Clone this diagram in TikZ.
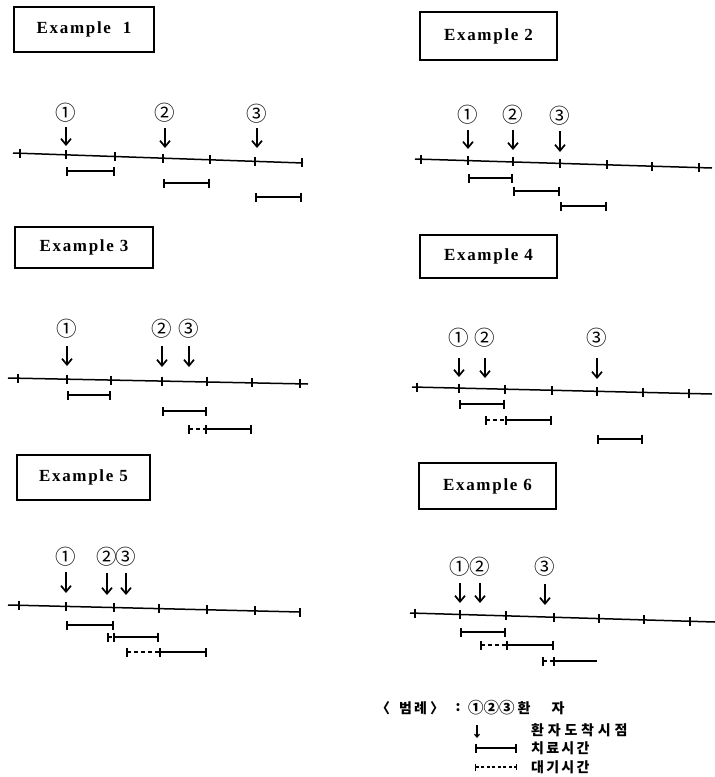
\documentclass[tikz,border=0pt]{standalone}
\usepackage{fontspec}
\usetikzlibrary{arrows.meta}
\newfontfamily\exfont{Liberation Serif}[LetterSpace=10]
\newfontfamily\krfont{Noto Sans CJK KR}[LetterSpace=27]
\newfontfamily\krfontb{Noto Sans CJK KR}[LetterSpace=16]
\newfontfamily\numfont{Noto Sans CJK KR}
% axis: name, x0, y0, x1, y1, tick list
\newcommand\axisline[6]{%
  \coordinate (#1s) at (#2,#3); \coordinate (#1e) at (#4,#5);
  \draw[axisln] (#1s) -- (#1e);
  \foreach \x in {#6}{\draw[tickln] (\x,{#3+(\x-#2)*(#5-#3)/(#4-#2)}) ++(0,-4.5) -- ++(0,9);}}
% patient: name, label, x, ylabel, ytop, ybot
\newcommand\patmark[6]{%
  \node[numlab] (#1) at (#3,#4) {#2};
  \coordinate (#1t) at (#3,#5); \coordinate (#1b) at (#3,#6);
  \draw[arrive] (#1t) -- (#1b);}
% bar: name, x0, x1, y, style
\newcommand\spanbar[5]{%
  \coordinate (#1s) at (#2,#4); \coordinate (#1e) at (#3,#4);
  \draw[#5] (#1s) -- (#1e);}
\begin{document}
\begin{tikzpicture}[x=1pt,y=-1pt,
  exbox/.style={draw, line width=1.3pt, inner sep=0pt, font=\exfont\bfseries\fontsize{17}{19}\selectfont},
  numlab/.style={inner sep=0pt, font=\numfont\fontsize{20.5}{22}\selectfont},
  axisln/.style={line width=1.5pt},
  tickln/.style={line width=1.6pt},
  arrive/.style={line width=1.7pt, -{Straight Barb[length=6pt,width=10pt,line width=1.7pt]}},
  treat/.style={line width=1.9pt, {Bar[width=9pt,line width=1.6pt]}-{Bar[width=9pt,line width=1.6pt]}},
  treatopen/.style={line width=1.9pt, {Bar[width=9pt,line width=1.6pt]}-},
  wait/.style={line width=1.6pt, dash pattern=on 4pt off 3pt, {Bar[width=9pt,line width=1.6pt]}-},
  kr/.style={inner sep=0pt, anchor=west, font=\krfont\bfseries\fontsize{14}{16}\selectfont},
  krb/.style={inner sep=0pt, anchor=west, font=\krfontb\bfseries\fontsize{14}{16}\selectfont},
  krc/.style={inner sep=0pt, font=\numfont\bfseries\fontsize{14}{16}\selectfont}]
\useasboundingbox (0,0) rectangle (715,777);

% ---------- Example 1
\node[exbox, minimum width=140pt, minimum height=45pt] (box1) at (84,29.5) {Example~~1\hspace{14pt}};
\axisline{ax1}{13}{153}{303}{163}{20,66,115,163,210,255,302}
\patmark{e1p1}{①}{66}{113}{127}{146}
\patmark{e1p2}{②}{165}{113}{128}{148}
\patmark{e1p3}{③}{257}{114}{128}{148}
\spanbar{e1b1}{66}{115}{171}{treat}
\spanbar{e1b2}{163}{210}{183}{treat}
\spanbar{e1b3}{255}{302}{197}{treat}

% ---------- Example 2
\node[exbox, minimum width=137pt, minimum height=48pt] (box2) at (488.5,36) {Example~2};
\axisline{ax2}{415}{159}{712}{168}{421,468,513,560,607,652,699}
\patmark{e2p1}{①}{468}{115}{130}{149}
\patmark{e2p2}{②}{513}{115}{130}{150}
\patmark{e2p3}{③}{560}{116}{131}{152}
\spanbar{e2b1}{468}{513}{178}{treat}
\spanbar{e2b2}{513}{560}{191}{treat}
\spanbar{e2b3}{560}{607}{206}{treat}

% ---------- Example 3
\node[exbox, minimum width=138pt, minimum height=41pt] (box3) at (84,247.5) {Example~3};
\axisline{ax3}{8}{378}{308}{384}{18,67,111,162,207,252,300}
\patmark{e3p1}{①}{67}{329}{346}{366}
\patmark{e3p2}{②}{162}{329}{346}{367}
\patmark{e3p3}{③}{189}{329}{346}{367}
\spanbar{e3b1}{67}{111}{395}{treat}
\spanbar{e3b2}{162}{207}{411}{treat}
\spanbar{e3w3}{188}{205}{429}{wait}
\spanbar{e3b3}{205}{252}{429}{treat}

% ---------- Example 4
\node[exbox, minimum width=137pt, minimum height=43pt] (box4) at (488.5,256.5) {Example~4};
\axisline{ax4}{412}{387}{712}{394}{417,459,505,552,597,643,689}
\patmark{e4p1}{①}{459}{338}{358}{377}
\patmark{e4p2}{②}{485}{338}{358}{378}
\patmark{e4p3}{③}{597}{338}{358}{379}
\spanbar{e4b1}{459}{505}{404}{treat}
\spanbar{e4w2}{485}{505}{420}{wait}
\spanbar{e4b2}{505}{552}{420}{treat}
\spanbar{e4b3}{597}{643}{439}{treat}

% ---------- Example 5
\node[exbox, minimum width=133pt, minimum height=45pt] (box5) at (83.5,477.5) {Example~5};
\axisline{ax5}{8}{605}{300}{612}{19,66,114,159,207,255,300}
\patmark{e5p1}{①}{66}{557}{572}{593}
\patmark{e5p2}{②}{107}{557}{573}{595}
\patmark{e5p3}{③}{126}{557}{573}{595}
\spanbar{e5b1}{66}{114}{625}{treat}
\spanbar{e5w2}{107}{113}{637}{wait}
\spanbar{e5b2}{113}{159}{637}{treat}
\spanbar{e5w3}{126}{159}{652}{wait}
\spanbar{e5b3}{159}{207}{652}{treat}

% ---------- Example 6
\node[exbox, minimum width=137pt, minimum height=46pt] (box6) at (487.5,486) {Example~6};
\axisline{ax6}{410}{613}{715}{622}{415,460,506,554,599,644,690}
\patmark{e6p1}{①}{460}{567}{583}{603}
\patmark{e6p2}{②}{480}{567}{583}{603}
\patmark{e6p3}{③}{545}{567}{584}{605}
\spanbar{e6b1}{460}{506}{632}{treat}
\spanbar{e6w2}{480}{506}{645}{wait}
\spanbar{e6b2}{506}{554}{645}{treat}
\spanbar{e6w3}{542}{553}{661}{wait}
\spanbar{e6b3}{553}{597}{661}{treatopen}

% ---------- Legend
\node[krc] (lgl) at (383,708) {〈};
\node[krb, anchor=center] (lgname) at (413,708) {범례};
\node[krc] (lgr) at (437,708) {〉};
\node[krc] (lgcol) at (458,708) {:};
\node[krc, anchor=west, font=\numfont\bfseries\fontsize{15.5}{17}\selectfont] (lgnums) at (468,708) {①②③};
\node[krc] (lgpat1) at (524,708) {환};
\node[krc] (lgpat2) at (558,708) {자};
\coordinate (lgat) at (477,725); \coordinate (lgab) at (477,738);
\draw[line width=1.2pt, -{Straight Barb[length=3pt,width=5pt,line width=1.2pt]}] (lgat) -- (lgab);
\node[kr] (lgarr) at (531,730) {환자도착시점};
\spanbar{lgtr}{475}{517}{748}{treat, line width=1.2pt}
\node[krb] (lgtreat) at (531,748) {치료시간};
\coordinate (lgws) at (475,767); \coordinate (lgwe) at (517,767);
\draw[line width=1.1pt, dash pattern=on 3pt off 2.5pt, {Bar[width=7pt,line width=1.2pt]}-{Bar[width=6pt,line width=1.2pt]}] (lgws) -- (lgwe);
\node[krb] (lgwait) at (531,767) {대기시간};
\end{tikzpicture}
\end{document}
